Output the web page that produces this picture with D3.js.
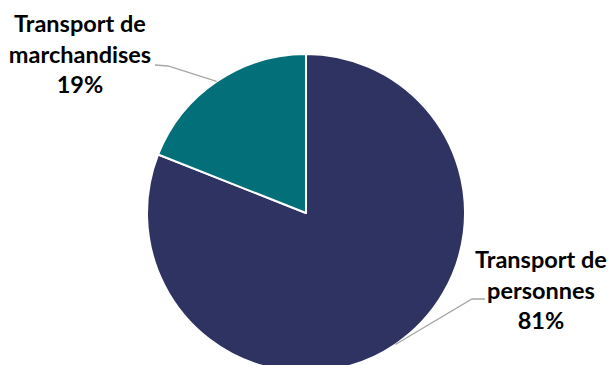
<!DOCTYPE html>
<html>
<head>
<meta charset="utf-8">
<script src="https://cdn.jsdelivr.net/npm/d3@7/dist/d3.min.js"></script>
<style>
  html, body { margin: 0; padding: 0; background: #fff; }
  svg { display: block; }
  .lbl { font-family: Lato, "Open Sans", sans-serif; font-weight: 700; font-size: 23.5px; fill: #000; }
</style>
</head>
<body>
<svg id="chart" width="608" height="365"></svg>
<script>
// Share of transport activity by type
const categories = ["Transport de personnes", "Transport de marchandises"];
const labelLines = [["Transport de", "personnes"], ["Transport de", "marchandises"]];
const shares = [81, 19];
const colors = ["#2E3361", "#036F78"];

const cx = 306, cy = 213, R = 159;

const svg = d3.select("#chart");
const g = svg.append("g").attr("transform", `translate(${cx},${cy})`);

const data = categories.map((c, i) => ({ name: c, value: shares[i], lines: labelLines[i], color: colors[i] }));

const pie = d3.pie().sort(null).value(d => d.value);
const arc = d3.arc().innerRadius(0).outerRadius(R);
const arcs = pie(data);

g.selectAll("path.slice")
  .data(arcs)
  .join("path")
  .attr("class", "slice")
  .attr("d", arc)
  .attr("fill", d => d.data.color)
  .attr("stroke", "#fff")
  .attr("stroke-width", 2)
  .attr("stroke-linejoin", "round");

// Label placement: text block centre x, first baseline y, and leader elbow (relative to centre)
const layout = [
  { x: 541, y: 268, elbow: [166, 86], end: [179, 86] },      // personnes
  { x: 80, y: 32, elbow: [-138, -147], end: [-151, -148] }   // marchandises
];

const lineH = 30.5;

arcs.forEach((a, i) => {
  const mid = (a.startAngle + a.endAngle) / 2;
  const px = R * Math.sin(mid), py = -R * Math.cos(mid);
  const L = layout[i];
  g.append("polyline")
    .attr("points", [[px, py], L.elbow, L.end].map(p => p.join(",")).join(" "))
    .attr("fill", "none")
    .attr("stroke", "#A6A6A6")
    .attr("stroke-width", 1.3);

  const lines = a.data.lines.concat([d3.format(".0f")(a.data.value) + "%"]);
  const t = svg.append("text")
    .attr("class", "lbl")
    .attr("text-anchor", "middle");
  lines.forEach((s, k) => {
    t.append("tspan")
      .attr("x", L.x)
      .attr("y", L.y + k * lineH)
      .text(s);
  });
});
</script>
</body>
</html>
